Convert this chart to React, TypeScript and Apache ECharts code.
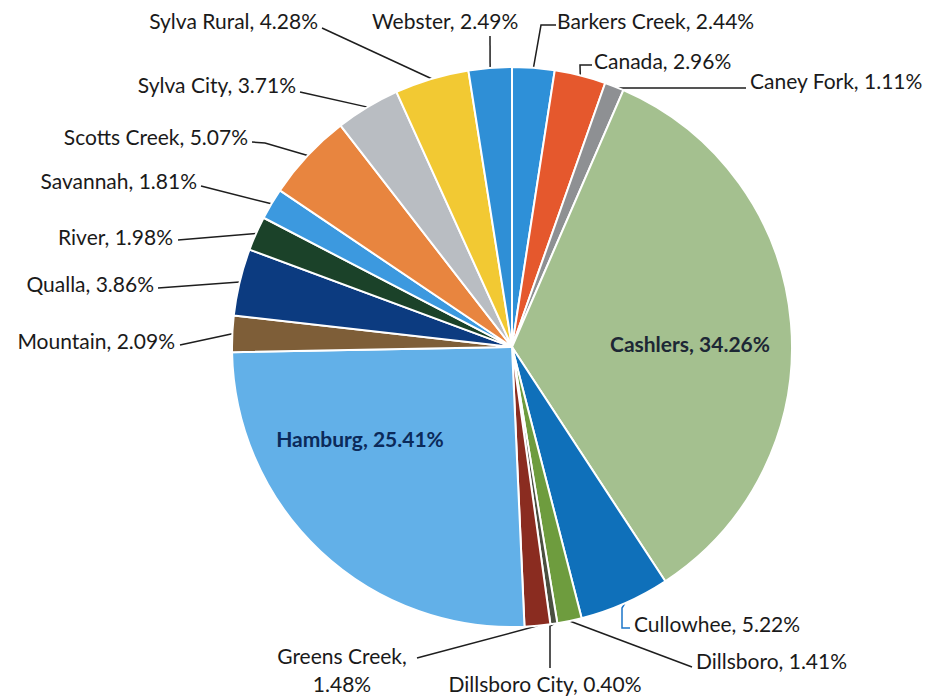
import React, { useEffect, useRef } from "react";
import * as echarts from "echarts";

const NAMES = [
  "Barkers Creek", "Canada", "Caney Fork", "Cashlers", "Cullowhee", "Dillsboro",
  "Dillsboro City", "Greens Creek", "Hamburg", "Mountain", "Qualla", "River",
  "Savannah", "Scotts Creek", "Sylva City", "Sylva Rural", "Webster",
];
const SHARES = [
  2.44, 2.96, 1.11, 34.26, 5.22, 1.41, 0.40, 1.48, 25.41, 2.09, 3.86, 1.98,
  1.81, 5.07, 3.71, 4.28, 2.49,
];
const COLORS = [
  "#2E90D8", "#E5582D", "#8E9093", "#A4C08F", "#0F70BA", "#6E9C3E",
  "#4A4F40", "#8A2C20", "#62B0E8", "#7E5E38", "#0C3B80", "#1B4229",
  "#3C99DF", "#E8853F", "#B9BDC2", "#F2C933", "#2F8FD6",
];
const INSIDE = ["Cashlers", "Hamburg"];

type Place = { x: number; y: number; align: string; line?: number[][]; lineColor?: string };
const PLACE: Record<string, Place> = {
  "Barkers Creek": { x: 557, y: 20, align: "left", line: [[541, 25], [556, 25]] },
  "Canada": { x: 594, y: 60, align: "left", line: [[580, 65], [592, 65]] },
  "Caney Fork": { x: 750, y: 80, align: "left", line: [[605, 88], [746, 88]] },
  "Cashlers": { x: 690, y: 343, align: "center" },
  "Cullowhee": { x: 634, y: 623, align: "left", line: [[622, 608], [622, 628], [630, 628]], lineColor: "#1B75C9" },
  "Dillsboro": { x: 696, y: 660, align: "left", line: [[692, 667]] },
  "Dillsboro City": { x: 545, y: 683, align: "center", line: [[550, 626], [550, 668]] },
  "Greens Creek": { x: 342, y: 669, align: "center", line: [[417, 658]] },
  "Hamburg": { x: 360, y: 438, align: "center" },
  "Mountain": { x: 175, y: 340, align: "right", line: [[180, 345]] },
  "Qualla": { x: 154, y: 283, align: "right", line: [[158, 288]] },
  "River": { x: 173, y: 236, align: "right", line: [[178, 240]] },
  "Savannah": { x: 197, y: 180, align: "right", line: [[201, 186]] },
  "Scotts Creek": { x: 248, y: 136, align: "right", line: [[265, 143], [252, 142]] },
  "Sylva City": { x: 296, y: 84, align: "right", line: [[300, 92]] },
  "Sylva Rural": { x: 318, y: 20, align: "right", line: [[322, 28]] },
  "Webster": { x: 372, y: 20, align: "left", line: [[490, 36]] },
};

export default function App() {
  const ref = useRef<HTMLDivElement>(null);
  useEffect(() => {
    const chart = echarts.init(ref.current!, undefined, { renderer: "svg" });
    const data = NAMES.map((name, i) => {
      const inside = INSIDE.includes(name);
      const p = PLACE[name];
      return {
        name,
        value: SHARES[i],
        itemStyle: { color: COLORS[i] },
        label: inside
          ? { position: "inside", fontWeight: "bold", color: name === "Hamburg" ? "#0B2A5A" : "#1D2735" }
          : { position: "outside" },
        labelLine: inside
          ? { show: false }
          : { show: true, lineStyle: { color: p.lineColor || "#1E1E1E", width: 1.5 } },
      };
    });
    chart.setOption({
      animation: false,
      backgroundColor: "#ffffff",
      series: [
        {
          type: "pie",
          center: [512, 347],
          radius: 280,
          startAngle: 90,
          clockwise: true,
          avoidLabelOverlap: false,
          data,
          itemStyle: { borderColor: "#ffffff", borderWidth: 2 },
          label: {
            fontFamily: "Lato, 'Noto Sans', sans-serif",
            fontSize: 21,
            color: "#1A1A1A",
            lineHeight: 28,
            formatter: (pr: any) =>
              pr.name === "Greens Creek"
                ? `${pr.name},\n${pr.value.toFixed(2)}%`
                : `${pr.name}, ${pr.value.toFixed(2)}%`,
          },
          labelLine: { length: 20, length2: 20 },
          labelLayout: (params: any) => {
            const name = NAMES[params.dataIndex];
            const p = PLACE[name];
            const res: any = { x: p.x, y: p.y, align: p.align, verticalAlign: "middle" };
            const a = params.labelLinePoints && params.labelLinePoints[0];
            if (a && p.line) res.labelLinePoints = [a, ...p.line];
            return res;
          },
        },
      ],
    });
    return () => chart.dispose();
  }, []);
  return (
    <div
      ref={ref}
      style={{ position: "absolute", left: 0, top: 0, width: 932, height: 696, background: "#fff" }}
    />
  );
}
